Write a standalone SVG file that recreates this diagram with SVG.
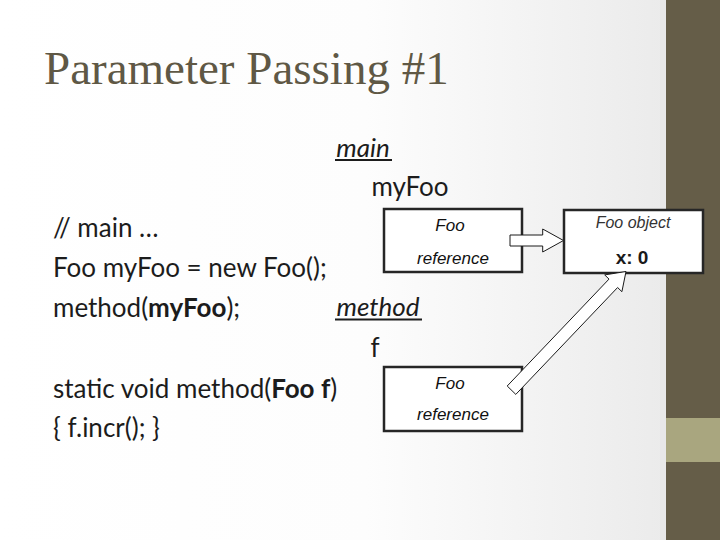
<svg xmlns="http://www.w3.org/2000/svg" width="720" height="540" viewBox="0 0 720 540">
  <defs>
    <linearGradient id="bg" x1="0" y1="0" x2="1" y2="0">
      <stop offset="0" stop-color="#ffffff"/>
      <stop offset="0.55" stop-color="#fdfdfd"/>
      <stop offset="1" stop-color="#ebebeb"/>
    </linearGradient>
    <style>
      .title { font-family: "Liberation Serif", serif; font-size: 47px; fill: #5f5845; }
      .body { font-family: Lato, "Liberation Sans", sans-serif; font-size: 26px; fill: #1c1c1c; }
      .lbl { font-family: Lato, "Liberation Sans", sans-serif; font-size: 26px; fill: #1c1c1c; text-anchor: middle; }
      .ital { font-style: italic; }
      .box { fill: #ffffff; stroke: #262626; stroke-width: 2.5; }
      .bt { font-family: "Liberation Sans", Arial, sans-serif; font-size: 17px; font-style: italic; fill: #111; text-anchor: middle; }
      .obj { font-family: "Liberation Sans", Arial, sans-serif; font-size: 16px; font-style: italic; fill: #333; text-anchor: middle; }
      .val { font-family: "Liberation Sans", Arial, sans-serif; font-size: 19px; font-weight: bold; fill: #1a1a1a; text-anchor: middle; }
      .arrow { fill: #ffffff; stroke: #1a1a1a; stroke-width: 1; stroke-linejoin: miter; }
      .ul { stroke: #1c1c1c; stroke-width: 1.8; }
    </style>
  </defs>

  <rect x="0" y="0" width="666" height="540" fill="url(#bg)"/>
  <rect x="660" y="0" width="6" height="540" fill="#e8e8e8"/>
  <rect x="666" y="0" width="54" height="540" fill="#655d48"/>
  <rect x="666" y="418" width="54" height="44" fill="#a9a67f"/>

  <text class="title" x="44" y="84">Parameter Passing #1</text>

  <g id="code">
    <text class="body" x="53" y="237">// main …</text>
    <text class="body" x="53" y="277">Foo myFoo = new Foo();</text>
    <text class="body" x="53" y="317">method(<tspan font-weight="bold">myFoo</tspan>);</text>
    <text class="body" x="53" y="398">static void method(<tspan font-weight="bold">Foo f</tspan>)</text>
    <text class="body" x="53" y="437">{ f.incr(); }</text>
  </g>

  <g id="frame-main">
    <text class="lbl ital" x="363" y="157">main</text>
    <line class="ul" x1="335" y1="160" x2="392" y2="160"/>
    <text class="lbl" x="410" y="196">myFoo</text>
  </g>

  <g id="frame-method">
    <text class="lbl ital" x="378" y="316">method</text>
    <line class="ul" x1="335" y1="319.5" x2="422" y2="319.5"/>
    <text class="lbl" x="375" y="357">f</text>
  </g>

  <g id="myFoo-ref">
    <rect class="box" x="384" y="209" width="138" height="63"/>
    <text class="bt" x="450" y="231">Foo</text>
    <text class="bt" x="453" y="264">reference</text>
  </g>

  <g id="f-ref">
    <rect class="box" x="384" y="367" width="138" height="64"/>
    <text class="bt" x="450" y="389">Foo</text>
    <text class="bt" x="453" y="420">reference</text>
  </g>

  <g id="foo-object">
    <rect class="box" x="564" y="210" width="139" height="63"/>
    <text class="obj" x="633" y="228">Foo object</text>
    <text class="val" x="632" y="264">x: 0</text>
  </g>

  <g id="connectors">
    <polygon class="arrow" points="510,235 542.7,235 542.7,229 563.5,240.5 542.7,252 542.7,246 510,246"/>
    <polygon class="arrow" points="507.2,386 609,279.1 604.7,274.9 626,271.5 621.9,291.7 617.6,287.5 515.8,394.4"/>
  </g>
</svg>
